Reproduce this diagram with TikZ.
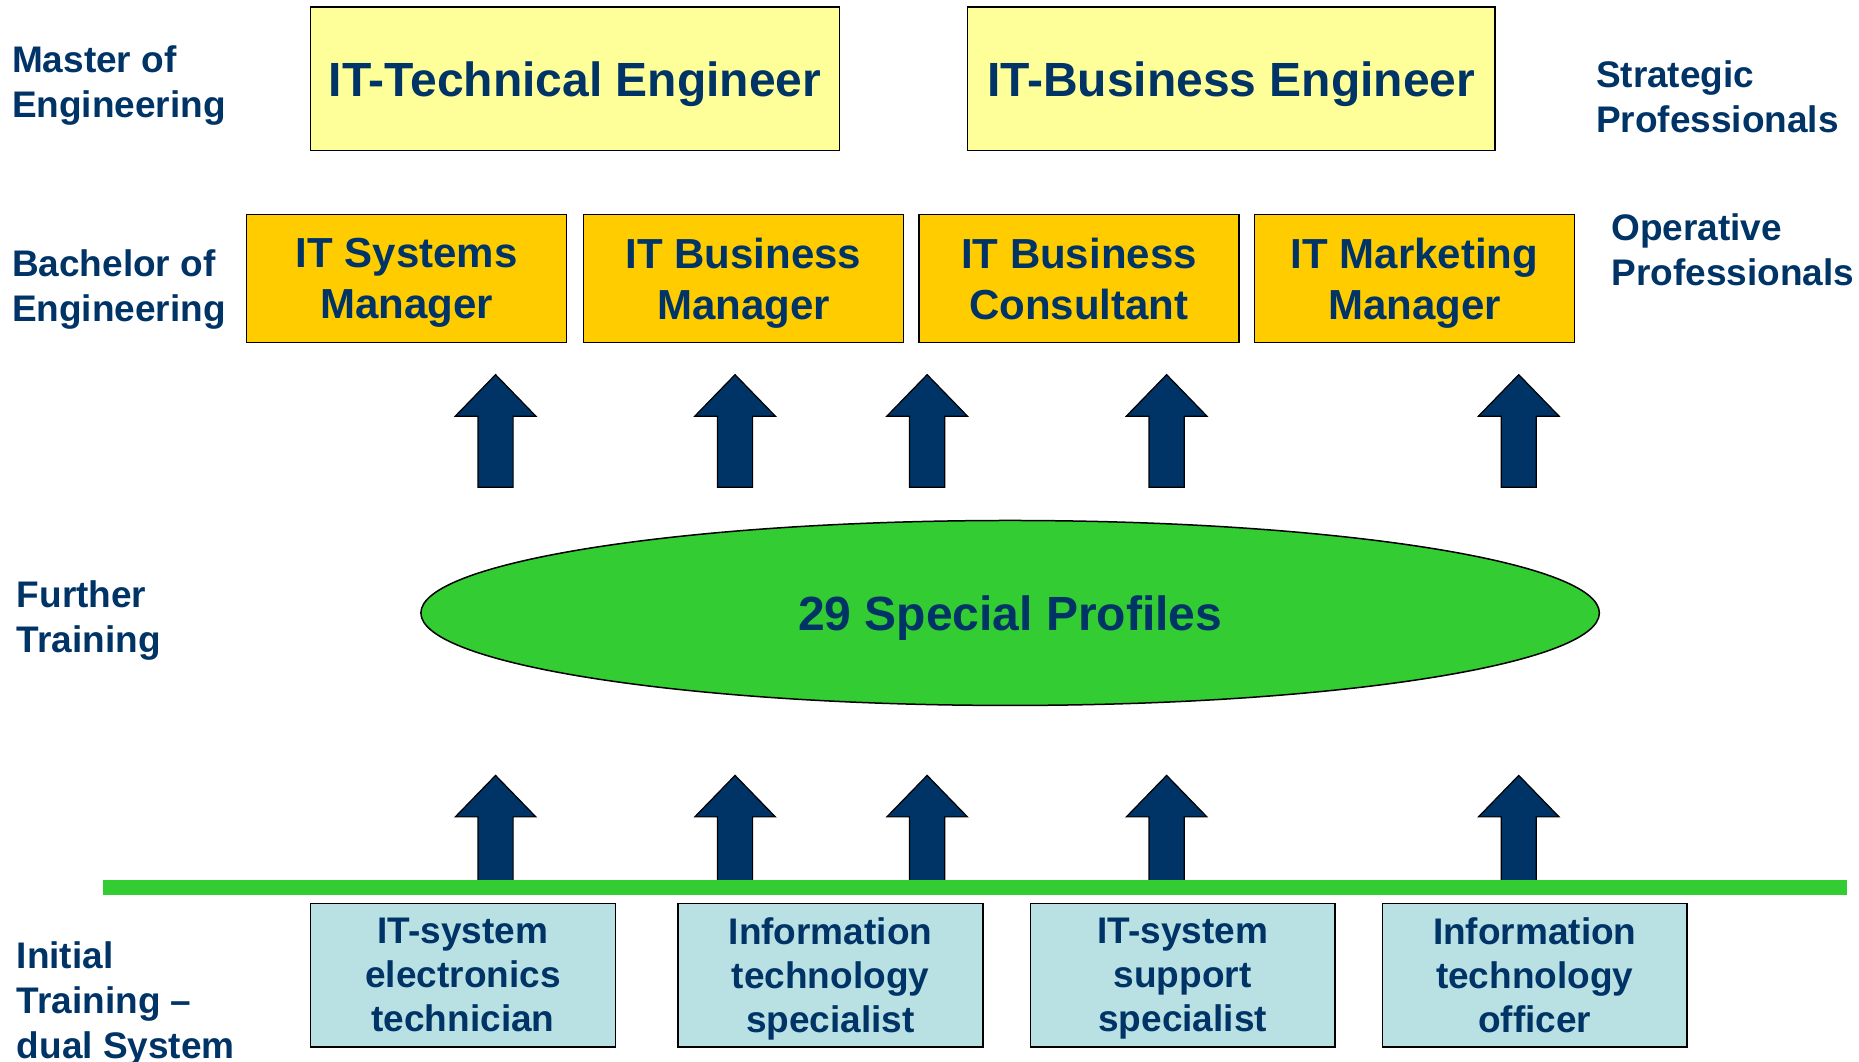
\documentclass[tikz,border=0pt]{standalone}
\usepackage{fontspec}
\setmainfont{Liberation Sans}
\usetikzlibrary{shapes.geometric}
\definecolor{navy}{HTML}{003366}
\definecolor{paleyellow}{HTML}{FFFF99}
\definecolor{gold}{HTML}{FFCC00}
\definecolor{lgreen}{HTML}{33CC33}
\definecolor{paleblue}{HTML}{B9E0E3}
\newcommand\blockarrow[3]{\draw[arrowshape] (#1,#2) -- ++(34,35) -- ++(-19.2,0) -- (#1+14.8,#3) -- (#1-14.8,#3) -- (#1-14.8,#2+35) -- ++(-19.2,0) -- cycle;}
\begin{document}
\begin{tikzpicture}[x=1.18559pt,y=-1.18559pt,
  lbl/.style={text=navy,font=\fontsize{37}{45}\selectfont\bfseries,align=left,inner sep=0pt},
  masterbox/.style={draw=black,line width=1.5pt,fill=paleyellow,text=navy,inner sep=0pt,font=\fontsize{48}{56}\selectfont\bfseries,align=center,minimum width=446*1.18559pt,minimum height=121*1.18559pt,text depth=0pt},
  bachbox/.style={draw=black,line width=1.5pt,fill=gold,text=navy,inner sep=0pt,font=\fontsize{42}{51}\selectfont\bfseries,align=center,minimum width=270*1.18559pt,minimum height=108*1.18559pt,text depth=-2pt},
  initbox/.style={draw=black,line width=1.5pt,fill=paleblue,text=navy,inner sep=0pt,font=\fontsize{37}{44}\selectfont\bfseries,align=center,minimum width=257*1.18559pt,minimum height=121*1.18559pt,text depth=-3pt},
  arrowshape/.style={fill=navy,draw=black,line width=1.2pt,line join=miter},
  profile/.style={ellipse,draw=black,line width=1.5pt,fill=lgreen,text=navy,inner sep=0pt,font=\fontsize{48}{56}\selectfont\bfseries,text depth=0pt}]
\useasboundingbox (0,0) rectangle (1568,895.75);

% left labels
\node[lbl,anchor=west] (lmaster) at (10,72) {Master of\\Engineering};
\node[lbl,anchor=west] (lbach) at (10,244) {Bachelor of\\Engineering};
\node[lbl,anchor=west] (lfurther) at (14,523) {Further\\Training};
\node[lbl,anchor=north west] (linit) at (14,794) {Initial\\Training --\\dual System};
% right labels
\node[lbl,anchor=west] (rstrat) at (1346,82) {Strategic\\Professionals};
\node[lbl,anchor=west] (roper) at (1359,211) {Operative\\Professionals};

% master boxes
\node[masterbox] (mte) at (485,66.5) {IT-Technical Engineer};
\node[masterbox,minimum width=445*1.18559pt] (mbe) at (1038.5,66.5) {IT-Business Engineer};

% bachelor boxes
\node[bachbox] (bsm) at (343,235) {IT Systems\\Manager};
\node[bachbox] (bbm) at (627,235) {IT Business\\Manager};
\node[bachbox] (bbc) at (910,235) {IT Business\\Consultant};
\node[bachbox] (bmm) at (1193,235) {IT Marketing\\Manager};

% upper arrows
\foreach \xx in {418,620,782,984,1281} {\blockarrow{\xx}{316}{411}}

% ellipse
\node[profile,minimum width=994*1.18559pt,minimum height=156*1.18559pt] (prof) at (852,517) {29 Special Profiles};

% lower arrows
\foreach \xx in {418,620,782,984,1281} {\blockarrow{\xx}{654}{744}}

% green base line
\coordinate (gl) at (87,748.5);
\coordinate (gr) at (1558,748.5);
\draw[lgreen,line width=15.4pt] (gl) -- (gr);

% initial training boxes
\node[initbox] (ite) at (390.5,822.5) {IT-system\\electronics\\technician};
\node[initbox] (its) at (700.5,822.5) {Information\\technology\\specialist};
\node[initbox] (iss) at (997.5,822.5) {IT-system\\support\\specialist};
\node[initbox] (ito) at (1294.5,822.5) {Information\\technology\\officer};
\end{tikzpicture}
\end{document}
